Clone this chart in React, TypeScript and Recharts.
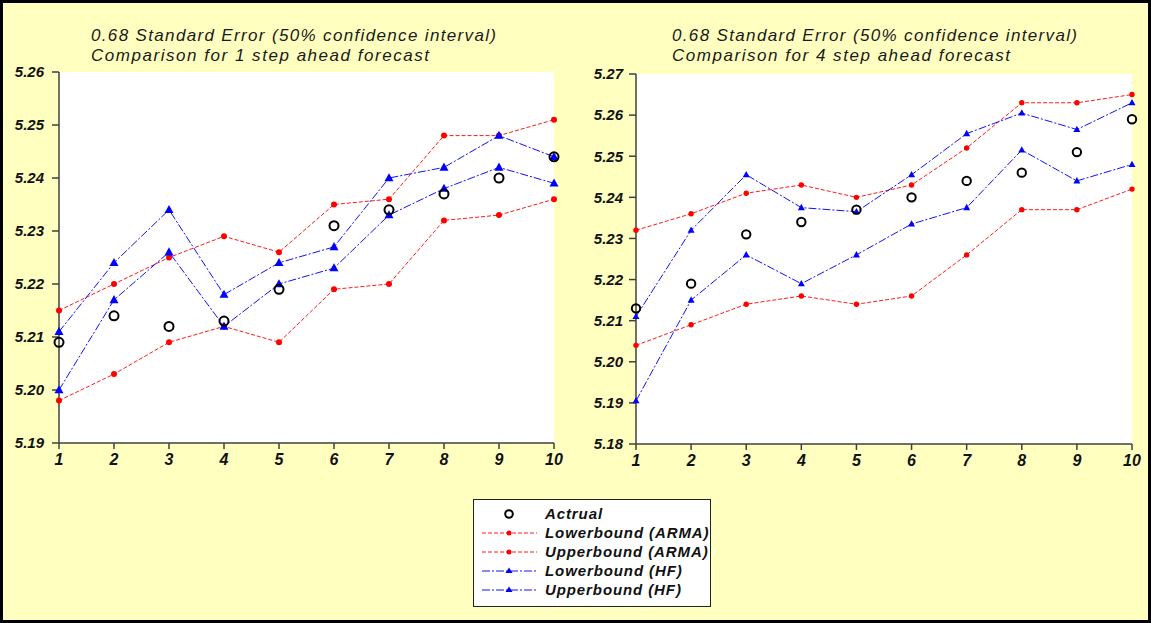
import React from 'react';
import { LineChart, Line, XAxis, YAxis, CartesianGrid } from 'recharts';

const steps = [1, 2, 3, 4, 5, 6, 7, 8, 9, 10];

// 1 step ahead forecast
const actual1 = [5.209, 5.214, 5.212, 5.213, 5.219, 5.231, 5.234, 5.237, 5.240, 5.244];
const lowerArma1 = [5.198, 5.203, 5.209, 5.212, 5.209, 5.219, 5.220, 5.232, 5.233, 5.236];
const upperArma1 = [5.215, 5.220, 5.225, 5.229, 5.226, 5.235, 5.236, 5.248, 5.248, 5.251];
const lowerHf1 = [5.200, 5.217, 5.226, 5.212, 5.220, 5.223, 5.233, 5.238, 5.242, 5.239];
const upperHf1 = [5.211, 5.224, 5.234, 5.218, 5.224, 5.227, 5.240, 5.242, 5.248, 5.244];

// 4 step ahead forecast
const actual4 = [5.213, 5.219, 5.231, 5.234, 5.237, 5.240, 5.244, 5.246, 5.251, 5.259];
const lowerArma4 = [5.204, 5.209, 5.214, 5.216, 5.214, 5.216, 5.226, 5.237, 5.237, 5.242];
const upperArma4 = [5.232, 5.236, 5.241, 5.243, 5.240, 5.243, 5.252, 5.263, 5.263, 5.265];
const lowerHf4 = [5.1905, 5.215, 5.226, 5.219, 5.226, 5.2335, 5.2375, 5.2515, 5.244, 5.248];
const upperHf4 = [5.211, 5.232, 5.2455, 5.2375, 5.2365, 5.2455, 5.2555, 5.2605, 5.2565, 5.263];

const yTicks1 = [5.19, 5.2, 5.21, 5.22, 5.23, 5.24, 5.25, 5.26];
const yTicks4 = [5.18, 5.19, 5.2, 5.21, 5.22, 5.23, 5.24, 5.25, 5.26, 5.27];

const titleLine1 = '0.68 Standard Error (50% confidence interval)';
const titleLine2Left = 'Comparison for 1 step ahead forecast';
const titleLine2Right = 'Comparison for 4 step ahead forecast';

const legendLabels = ['Actrual', 'Lowerbound (ARMA)', 'Upperbound (ARMA)', 'Lowerbound (HF)', 'Upperbound (HF)'];

const RED = '#ff1a1a';
const BLUE = '#1010ff';
const RED_DASH = '4 2';
const BLUE_DASH = '8 2 2 2';
const FONT = '"Liberation Sans", Arial, sans-serif';
const BG = '#ffffc0';

const buildRows = (a: number[], la: number[], ua: number[], lh: number[], uh: number[]) =>
  steps.map((s, i) => ({ step: s, actual: a[i], lowerArma: la[i], upperArma: ua[i], lowerHf: lh[i], upperHf: uh[i] }));

const rows1 = buildRows(actual1, lowerArma1, upperArma1, lowerHf1, upperHf1);
const rows4 = buildRows(actual4, lowerArma4, upperArma4, lowerHf4, upperHf4);

const openCircle = (r: number) => (p: any) => (
  <circle key={`c-${p.index}`} cx={p.cx} cy={p.cy} r={r} fill="none" stroke="#000" strokeWidth={2} />
);
const redDot = (r: number) => (p: any) => (
  <circle key={`r-${p.index}`} cx={p.cx} cy={p.cy} r={r} fill="#ff0000" stroke="none" />
);
const triangle = (w: number) => (p: any) => {
  const h = w * 0.9;
  return (
    <path
      key={`t-${p.index}`}
      d={`M${p.cx},${p.cy - h * 0.6} L${p.cx + w / 2},${p.cy + h * 0.4} L${p.cx - w / 2},${p.cy + h * 0.4} Z`}
      fill="#0000ff"
      stroke="none"
    />
  );
};

const tickStyle = { fontFamily: FONT, fontSize: 15, fontWeight: 700, fontStyle: 'italic', fill: '#111' };

type PanelProps = {
  rows: any[];
  yTicks: number[];
  domain: [number, number];
  width: number;
  height: number;
  margin: { top: number; right: number; bottom: number; left: number };
  yWidth: number;
  yTickMargin: number;
  dotR: number;
  triW: number;
  circR: number;
};

const Panel = ({ rows, yTicks, domain, width, height, margin, yWidth, yTickMargin, dotR, triW, circR }: PanelProps) => (
  <LineChart width={width} height={height} data={rows} margin={margin}>
    <CartesianGrid fill="#ffffff" horizontal={false} vertical={false} />
    <XAxis
      dataKey="step"
      type="number"
      domain={[1, 10]}
      ticks={steps}
      allowDecimals={false}
      height={30}
      stroke="#404040"
      strokeWidth={1.5}
      tickSize={6}
      tickMargin={5}
      tick={{ ...tickStyle, fontSize: 16 }}
      interval={0}
    />
    <XAxis xAxisId="top" orientation="top" type="number" domain={[0, 1]} height={0} tick={false} tickLine={false} stroke="#404040" strokeWidth={1.5} />
    <YAxis
      type="number"
      domain={domain}
      ticks={yTicks}
      width={yWidth}
      stroke="#404040"
      strokeWidth={1.5}
      tickSize={7}
      tickMargin={yTickMargin}
      tick={tickStyle}
      tickFormatter={(v: number) => v.toFixed(2)}
      interval={0}
    />
    <YAxis yAxisId="right" orientation="right" type="number" domain={[0, 1]} width={0} tick={false} tickLine={false} stroke="#404040" strokeWidth={1.5} />
    <Line dataKey="lowerArma" stroke={RED} strokeWidth={1} strokeDasharray={RED_DASH} dot={redDot(dotR)} isAnimationActive={false} />
    <Line dataKey="upperArma" stroke={RED} strokeWidth={1} strokeDasharray={RED_DASH} dot={redDot(dotR)} isAnimationActive={false} />
    <Line dataKey="lowerHf" stroke={BLUE} strokeWidth={1} strokeDasharray={BLUE_DASH} dot={triangle(triW)} isAnimationActive={false} />
    <Line dataKey="upperHf" stroke={BLUE} strokeWidth={1} strokeDasharray={BLUE_DASH} dot={triangle(triW)} isAnimationActive={false} />
    <Line dataKey="actual" stroke="none" dot={openCircle(circR)} isAnimationActive={false} />
  </LineChart>
);

const titleStyle = { fontFamily: FONT, fontSize: 17, fontStyle: 'italic', fill: '#1a1a1a' } as const;

const legendRowY = [514, 533, 552, 571, 590];

const LegendSymbol = ({ i, y }: { i: number; y: number }) => {
  if (i === 0) return <circle cx={509} cy={y} r={3.8} fill="none" stroke="#000" strokeWidth={2} />;
  const isRed = i === 1 || i === 2;
  return (
    <g>
      <line x1={482} x2={537} y1={y} y2={y} stroke={isRed ? RED : BLUE} strokeWidth={1} strokeDasharray={isRed ? RED_DASH : BLUE_DASH} />
      {isRed ? (
        <circle cx={509} cy={y} r={2.5} fill="#ff0000" />
      ) : (
        <path d={`M509,${y - 3.5} L512.5,${y + 2} L505.5,${y + 2} Z`} fill="#0000ff" />
      )}
    </g>
  );
};

export default function App() {
  return (
    <div
      style={{
        position: 'absolute',
        left: 0,
        top: 0,
        width: 1151,
        height: 623,
        background: BG,
        border: '3px solid #000',
        boxSizing: 'border-box',
        overflow: 'hidden',
      }}
    >
      <div style={{ position: 'absolute', left: -3, top: -3 }}>
        <Panel
          rows={rows1}
          yTicks={yTicks1}
          domain={[5.19, 5.26]}
          width={580}
          height={480}
          margin={{ top: 72, right: 26, bottom: 7, left: 0 }}
          yWidth={59}
          yTickMargin={8}
          dotR={3}
          triW={9}
          circR={4.5}
        />
      </div>
      <div style={{ position: 'absolute', left: 557, top: -3 }}>
        <Panel
          rows={rows4}
          yTicks={yTicks4}
          domain={[5.18, 5.27]}
          width={594}
          height={480}
          margin={{ top: 74, right: 22, bottom: 6, left: 0 }}
          yWidth={76}
          yTickMargin={6}
          dotR={2.7}
          triW={7}
          circR={4.2}
        />
      </div>
      <svg
        width={1151}
        height={623}
        style={{ position: 'absolute', left: -3, top: -3, pointerEvents: 'none' }}
      >
        <text x={91} y={41} {...titleStyle} textLength={405} lengthAdjust="spacing">{titleLine1}</text>
        <text x={91} y={61} {...titleStyle} textLength={338} lengthAdjust="spacing">{titleLine2Left}</text>
        <text x={672} y={41} {...titleStyle} textLength={405} lengthAdjust="spacing">{titleLine1}</text>
        <text x={672} y={61} {...titleStyle} textLength={338} lengthAdjust="spacing">{titleLine2Right}</text>

        <rect x={473.5} y={499.5} width={237} height={107} fill="#ffffff" stroke="#222" strokeWidth={1} />
        {legendLabels.map((label, i) => (
          <g key={label}>
            <LegendSymbol i={i} y={legendRowY[i]} />
            <text
              x={545}
              y={legendRowY[i] + 5}
              fontFamily={FONT}
              fontSize={15}
              fontWeight={700}
              fontStyle="italic"
              letterSpacing={0.9}
              fill="#111"
            >
              {label}
            </text>
          </g>
        ))}
      </svg>
    </div>
  );
}
